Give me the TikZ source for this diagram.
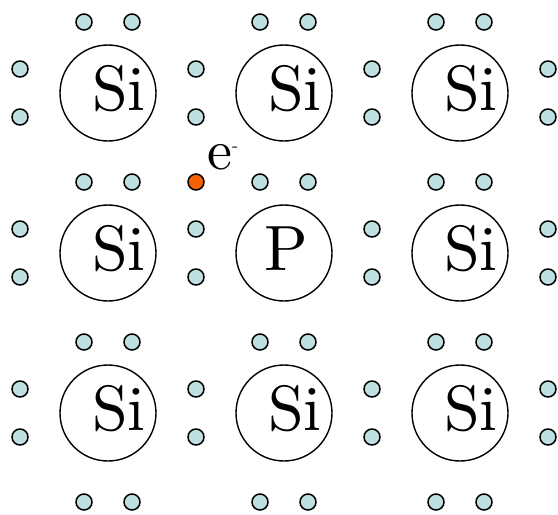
\documentclass[tikz,border=0pt]{standalone}
\usepackage{fontspec}
\newfontfamily\atomfont{lmroman10-regular.otf}
\definecolor{dotfill}{RGB}{190,224,226}
\definecolor{freefill}{RGB}{245,98,5}
\tikzset{
  atom/.style={circle, draw, line width=1.4pt, minimum size=96pt, inner sep=0pt},
  sym/.style={anchor=base, inner sep=0pt, font=\atomfont\fontsize{64}{64}\selectfont},
  electron/.style={circle, draw, line width=1.5pt, fill=dotfill, minimum size=16pt, inner sep=0pt},
  freeelectron/.style={electron, fill=freefill},
}
\begin{document}
\begin{tikzpicture}[x=1pt,y=-1pt]
\useasboundingbox (0,0) rectangle (558,515);
% atoms
\foreach \cx [count=\i] in {108,284,460}{
  \foreach \cy [count=\j] in {93,253,413}{
    \node[atom] (a\i\j) at (\cx,\cy) {};
  }
}
\foreach \i/\j in {1/1,2/1,3/1,1/2,3/2,1/3,2/3,3/3}{
  \node[sym] (s\i\j) at ([xshift=11pt,yshift=-17.5pt]a\i\j.center) {Si};
}
\node[sym] (s22) at ([xshift=2pt,yshift=-17pt]a22.center) {P};
% horizontal electron pairs
\foreach \cx [count=\i] in {108,284,460}{
  \foreach \y [count=\k] in {22,182,342,502}{
    \node[electron] (h\i\k a) at (\cx-24,\y) {};
    \node[electron] (h\i\k b) at (\cx+24,\y) {};
  }
}
% vertical electron pairs
\foreach \x [count=\k] in {20,196,372,548}{
  \foreach \cy [count=\j] in {93,253,413}{
    \node[electron] (v\k\j a) at (\x,\cy-24) {};
    \node[electron] (v\k\j b) at (\x,\cy+24) {};
  }
}
% free electron
\node[freeelectron] (free) at (196,182) {};
\node[anchor=base west, inner sep=0pt, font=\atomfont\fontsize{56}{56}\selectfont] (elabel) at (207,169) {e\raisebox{18pt}{\fontsize{18}{18}\selectfont -}};
\end{tikzpicture}
\end{document}
